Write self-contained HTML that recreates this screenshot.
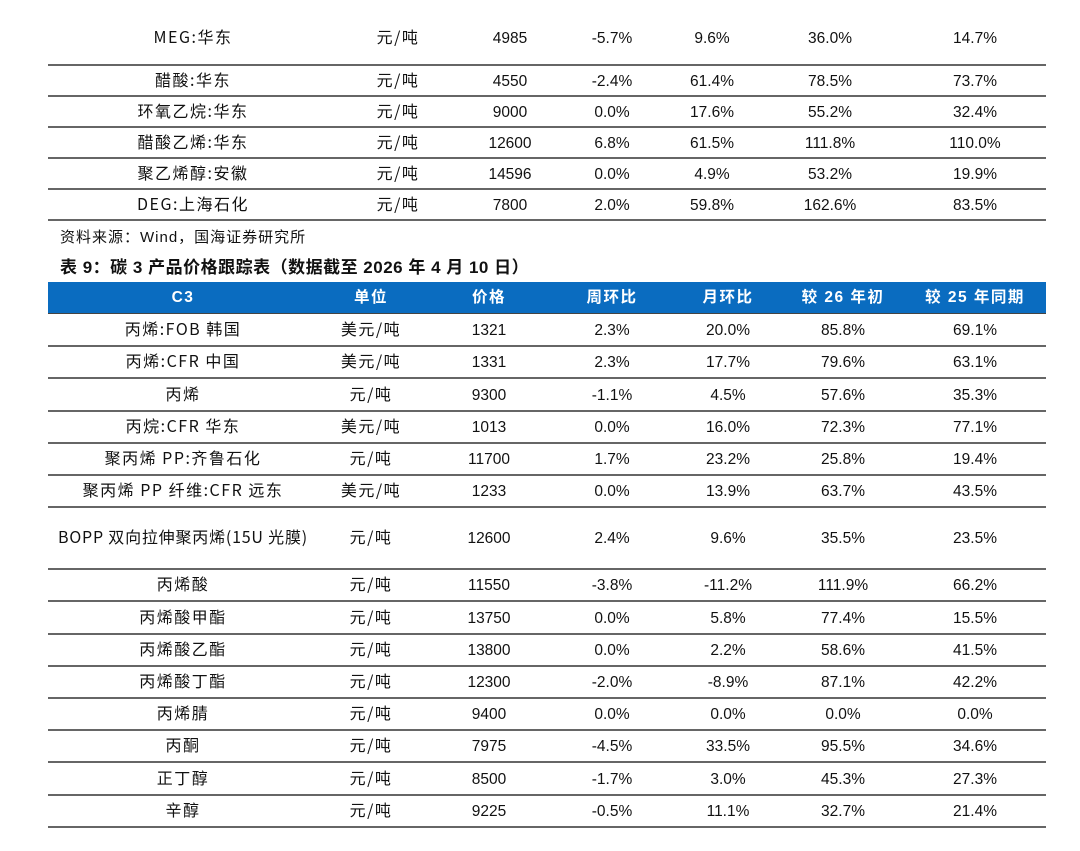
<!DOCTYPE html>
<html><head><meta charset="utf-8"><style>
body{margin:0;width:1080px;height:851px;background:#fff;position:relative;overflow:hidden;font-family:"Liberation Sans","Noto Sans CJK SC",sans-serif;color:#111}
.c{position:absolute;transform:translate(-50%,-50%);white-space:nowrap;font-size:15.5px;line-height:18px;height:18px}
.k{letter-spacing:1.5px;font-family:"Liberation Sans Narrow","Noto Sans CJK SC",sans-serif;font-size:16px;margin-top:-3px}
.ln{position:absolute;left:48px;width:998px;height:1.5px;background:#666}
</style></head><body>
<div class="c" style="left:60px;top:238px;transform:translateY(-50%);font-size:15px;letter-spacing:1px">资料来源：Wind，国海证券研究所</div>
<div class="c" style="left:60px;top:268px;transform:translateY(-50%);font-size:17px;font-weight:bold;letter-spacing:0.5px">表 9：碳 3 产品价格跟踪表（数据截至 2026 年 4 月 10 日）</div>
<div style="position:absolute;left:48px;top:282px;width:998px;height:31px;background:#0a6cc0;border-bottom:1.5px solid #444"></div>
<script>
const top1=[["MEG:华东","元/吨","4985","-5.7%","9.6%","36.0%","14.7%"],["醋酸:华东","元/吨","4550","-2.4%","61.4%","78.5%","73.7%"],["环氧乙烷:华东","元/吨","9000","0.0%","17.6%","55.2%","32.4%"],["醋酸乙烯:华东","元/吨","12600","6.8%","61.5%","111.8%","110.0%"],["聚乙烯醇:安徽","元/吨","14596","0.0%","4.9%","53.2%","19.9%"],["DEG:上海石化","元/吨","7800","2.0%","59.8%","162.6%","83.5%"]];
const hdr=["C3","单位","价格","周环比","月环比","较 26 年初","较 25 年同期"];
const rows2=[["丙烯:FOB 韩国","美元/吨","1321","2.3%","20.0%","85.8%","69.1%"],["丙烯:CFR 中国","美元/吨","1331","2.3%","17.7%","79.6%","63.1%"],["丙烯","元/吨","9300","-1.1%","4.5%","57.6%","35.3%"],["丙烷:CFR 华东","美元/吨","1013","0.0%","16.0%","72.3%","77.1%"],["聚丙烯 PP:齐鲁石化","元/吨","11700","1.7%","23.2%","25.8%","19.4%"],["聚丙烯 PP 纤维:CFR 远东","美元/吨","1233","0.0%","13.9%","63.7%","43.5%"],["BOPP 双向拉伸聚丙烯(15U 光膜)","元/吨","12600","2.4%","9.6%","35.5%","23.5%"],["丙烯酸","元/吨","11550","-3.8%","-11.2%","111.9%","66.2%"],["丙烯酸甲酯","元/吨","13750","0.0%","5.8%","77.4%","15.5%"],["丙烯酸乙酯","元/吨","13800","0.0%","2.2%","58.6%","41.5%"],["丙烯酸丁酯","元/吨","12300","-2.0%","-8.9%","87.1%","42.2%"],["丙烯腈","元/吨","9400","0.0%","0.0%","0.0%","0.0%"],["丙酮","元/吨","7975","-4.5%","33.5%","95.5%","34.6%"],["正丁醇","元/吨","8500","-1.7%","3.0%","45.3%","27.3%"],["辛醇","元/吨","9225","-0.5%","11.1%","32.7%","21.4%"]];
const x1=[193,398,510,612,712,830,975], x2=[183,371,489,612,728,843,975];
function cell(t,x,y,extra,cls){const d=document.createElement('div');d.className='c'+(cls?' k':'');d.textContent=t;d.style.left=x+'px';d.style.top=Math.round(y+2)+'px';if(extra)d.style.cssText+=extra;


document.body.appendChild(d);}
function line(y){const l=document.createElement('div');l.className='ln';l.style.top=Math.round(y)+'px';


document.body.appendChild(l);}
top1.forEach((r,i)=>{const y=i==0?37:80+(i-1)*31.1;r.forEach((t,j)=>cell(t,x1[j],y,'',j<2));});
[64,95,126,157,188,219].forEach(line);
hdr.forEach((t,j)=>cell(t,x2[j],296,'color:#fff;font-weight:bold;font-family:"Liberation Sans","Noto Sans CJK SC",sans-serif;letter-spacing:1.5px;font-size:15.5px',false));
let y=313;
rows2.forEach((r,i)=>{const h=i==6?62:32.2;r.forEach((t,j)=>cell(t,x2[j],y+h/2,(i==6&&j==0)?'letter-spacing:0.8px':'',j<2));y+=h;line(y);});
</script>
</body></html>
